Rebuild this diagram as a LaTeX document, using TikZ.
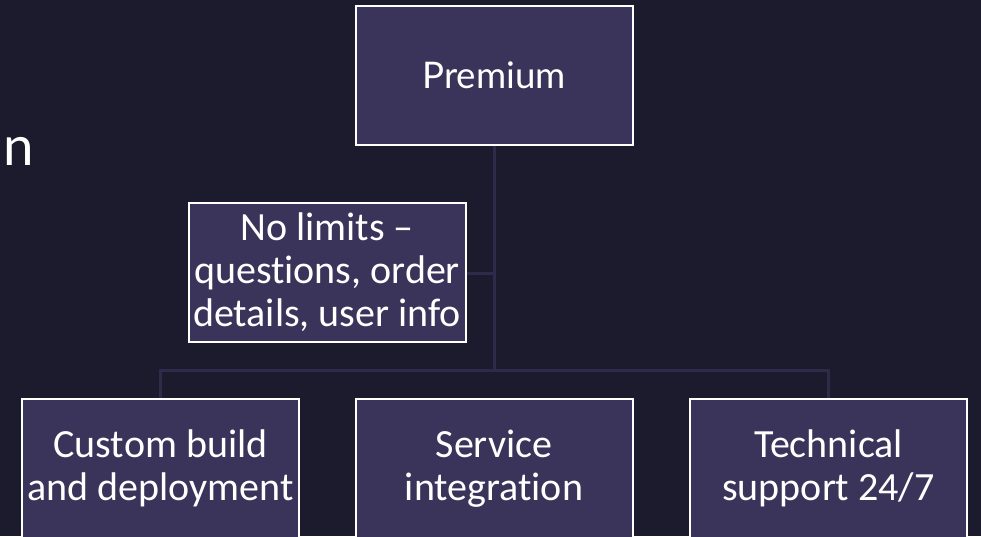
\documentclass[tikz,border=0pt]{standalone}
\usepackage{fontspec}
\setmainfont{Carlito}[Ligatures={TeX,NoCommon}]
\newfontfamily\headfont{Lato}
\usetikzlibrary{positioning}

\definecolor{bgnavy}{RGB}{28,27,46}
\definecolor{boxpurple}{RGB}{58,52,90}
\definecolor{linkpurple}{RGB}{46,42,74}

\begin{document}
\begin{tikzpicture}[x=0.75pt,y=-0.75pt,
			planbox/.style={rectangle,draw=white,line width=1.5pt,fill=boxpurple,text=white,
				minimum width=207.75pt,minimum height=104.25pt,inner sep=0pt,align=center,
				font=\fontsize{30}{32.25}\selectfont},
			link/.style={draw=linkpurple,line width=2.25pt}]

			\fill [bgnavy] (0,0) rectangle (981,536);
			\useasboundingbox (0,0) rectangle (981,536);

			\node [anchor=base west,text=white,inner sep=0pt,font=\headfont\fontsize{41}{41}\selectfont] (title) at (3,165) {n};

			\coordinate (bus) at (494,370);

			% connectors
			\draw [link] (494,145) -- (bus);
			\draw [link] (466,273) -- (494,273);
			\draw [link] (160.5,399) |- (828.5,370) -- (828.5,399);

			\node [planbox,font=\headfont\fontsize{27.5}{30}\selectfont] (premium) at (494,75.5) {Premium};
			\node [planbox] (nolimits) at (327,272.5) {No limits –\\questions, order\\details, user info};
			\node [planbox] (custom) at (160.5,468.5) {Custom build\\and deployment};
			\node [planbox] (service) at (494,468.5) {Service\\integration};
			\node [planbox] (support) at (828.5,468.5) {Technical\\support 24/7};
	\end{tikzpicture}
\end{document}
